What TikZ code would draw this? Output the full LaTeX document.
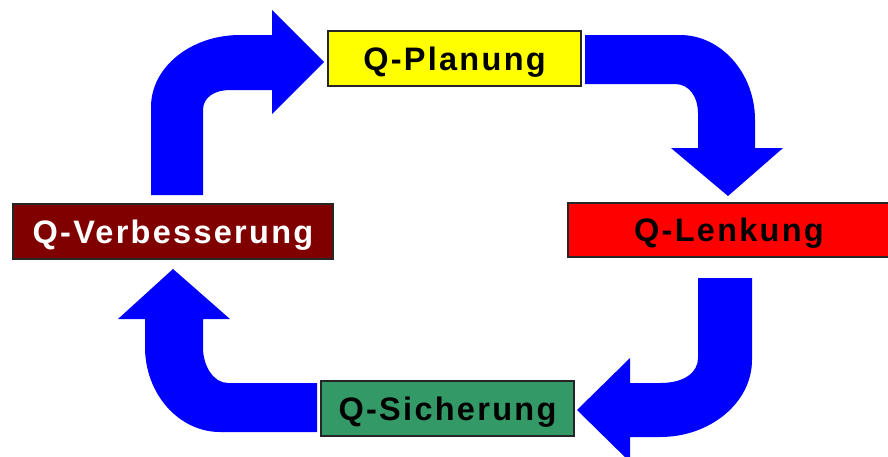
\documentclass[tikz,border=0pt]{standalone}
\usepackage{fontspec}
\setmainfont{Liberation Sans}[LetterSpace=7]
\definecolor{qyellow}{HTML}{FFFF00}
\definecolor{qred}{HTML}{FF0000}
\definecolor{qdarkred}{HTML}{800000}
\definecolor{qgreen}{HTML}{339966}
\definecolor{qblue}{HTML}{0000FF}
\begin{document}
\begin{tikzpicture}[x=1pt,y=-1pt,
  qbox/.style={draw=black!85, line width=1.2pt, rectangle, inner sep=0pt,
    text height=23pt, text depth=0pt,
    font=\fontsize{32.5}{32.5}\selectfont\bfseries},
  blockarrow/.style={fill=qblue, draw=none}]
\useasboundingbox (0,0) rectangle (888,456);
% block arrows
\path[blockarrow] (151,195) -- (151,107) .. controls (151,67) and (191,35) .. (240,35)
  -- (272,35) -- (272,10) -- (324,62) -- (272,114) -- (272,90) -- (230,90)
  .. controls (215,90) and (203,97) .. (203,110) -- (203,195) -- cycle;
\path[blockarrow] (585,35) -- (680,35) .. controls (721,35) and (755,73) .. (755,120)
  -- (755,148) -- (783,148) -- (728,196) -- (671,148) -- (698,148) -- (698,113)
  .. controls (698,98) and (690,84) .. (675,84) -- (585,84) -- cycle;
\path[blockarrow] (698,278) -- (752,278) -- (752,360) .. controls (752,402) and (711,437) .. (660,437)
  -- (630,437) -- (630,462) -- (577,410) -- (630,358) -- (630,383) -- (660,383)
  .. controls (685,383) and (698,372) .. (698,358) -- cycle;
\path[blockarrow] (317,383) -- (228,383) .. controls (213,383) and (203,365) .. (203,348)
  -- (203,319) -- (230,319) -- (173,269) -- (118,319) -- (145,319) -- (145,347)
  .. controls (145,394) and (179,432) .. (220,432) -- (317,432) -- cycle;
% boxes
\node[qbox, fill=qyellow, text=black, minimum width=253pt, minimum height=55pt] (plan) at (454.5,58.5) {Q-Planung};
\node[qbox, fill=qred, text=black, minimum width=322pt, minimum height=54pt] (lenk) at (729,230) {Q-Lenkung};
\node[qbox, fill=qdarkred, text=white, minimum width=320pt, minimum height=55pt] (verb) at (173,231.5) {Q-Verbesserung};
\node[qbox, fill=qgreen, text=black, minimum width=253pt, minimum height=55pt] (sich) at (447.5,408.5) {Q-Sicherung};
\end{tikzpicture}
\end{document}
